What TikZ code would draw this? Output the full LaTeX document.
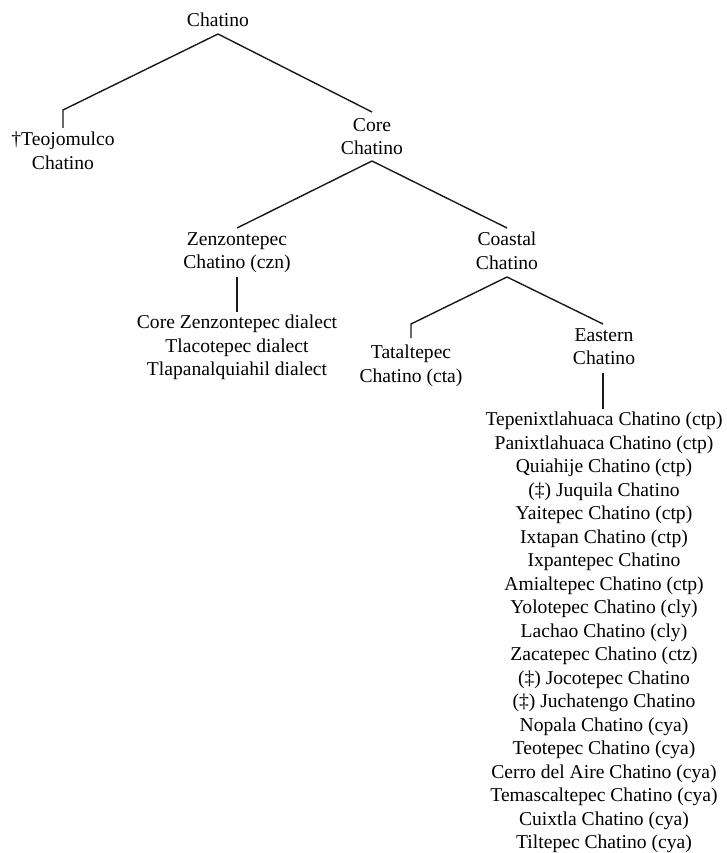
\documentclass[tikz,border=0pt]{standalone}
\usepackage{fontspec}
\setmainfont{Liberation Serif}
\usepackage{tikz}
\usetikzlibrary{positioning}

\begin{document}
\begin{tikzpicture}[
  x=1pt, y=-1pt,
  lang/.style={anchor=north, inner sep=0pt, align=center, font=\rmfamily\fontsize{19.6}{23.5}\selectfont},
  branch/.style={line width=1.4pt, draw=black!90}
]
\useasboundingbox (0,0) rectangle (726,853);

% Root
\node[lang] (root) at (218,13) {Chatino};

% First split
\node[lang] (teojomulco) at (63,132) {†Teojomulco\\Chatino};
\node[lang] (core) at (372,118) {Core\\Chatino};

% Core split
\node[lang] (zenzontepec) at (237,232) {Zenzontepec\\Chatino (czn)};
\node[lang] (coastal) at (507,232) {Coastal\\Chatino};
\node[lang] (zdialects) at (237,315) {Core Zenzontepec dialect\\Tlacotepec dialect\\Tlapanalquiahil dialect};

% Coastal split
\node[lang] (tataltepec) at (411,345) {Tataltepec\\Chatino (cta)};
\node[lang] (eastern) at (604,328) {Eastern\\Chatino};
\node[lang] (evarieties) at (604,412) {Tepenixtlahuaca Chatino (ctp)\\Panixtlahuaca Chatino (ctp)\\Quiahije Chatino (ctp)\\(‡) Juquila Chatino\\Yaitepec Chatino (ctp)\\Ixtapan Chatino (ctp)\\Ixpantepec Chatino\\Amialtepec Chatino (ctp)\\Yolotepec Chatino (cly)\\Lachao Chatino (cly)\\Zacatepec Chatino (ctz)\\(‡) Jocotepec Chatino\\(‡) Juchatengo Chatino\\Nopala Chatino (cya)\\Teotepec Chatino (cya)\\Cerro del Aire Chatino (cya)\\Temascaltepec Chatino (cya)\\Cuixtla Chatino (cya)\\Tiltepec Chatino (cya)};

% Joints
\coordinate (root-j) at (218,34);
\coordinate (core-j) at (372,161);
\coordinate (zen-j) at (237,277);
\coordinate (coastal-j) at (507,277);
\coordinate (eastern-j) at (603,373);

\draw[branch] (root-j) -- ([yshift=22pt]teojomulco.north) -- ([yshift=4pt]teojomulco.north);
\draw[branch] (root-j) -- ([yshift=6pt]core.north);
\draw[branch] (core-j) -- ([yshift=4pt]zenzontepec.north);
\draw[branch] (core-j) -- ([yshift=4pt]coastal.north);
\draw[branch] (zen-j) -- ([yshift=3pt]zdialects.north);
\draw[branch] (coastal-j) -- ([yshift=21pt]tataltepec.north) -- ([yshift=7pt]tataltepec.north);
\draw[branch] (coastal-j) -- ([xshift=-1pt,yshift=4pt]eastern.north);
\draw[branch] (eastern-j) -- ([xshift=-1pt,yshift=3pt]evarieties.north);
\end{tikzpicture}
\end{document}
